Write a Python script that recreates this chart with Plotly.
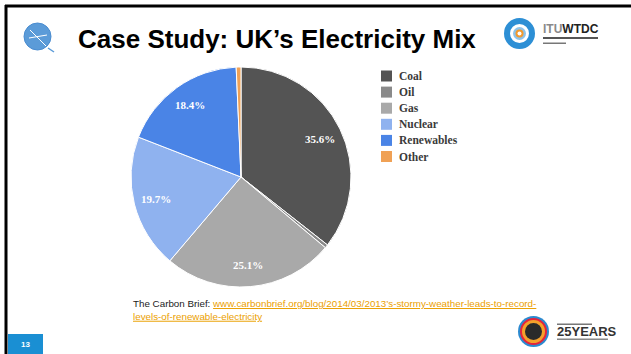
import math
import plotly.graph_objects as go

W, H = 631, 354

# ---- data ----
categories = ["Coal", "Oil", "Gas", "Nuclear", "Renewables", "Other"]
shares = [35.6, 0.5, 25.1, 19.7, 18.4, 0.7]
slice_labels = ["35.6%", "", "25.1%", "19.7%", "18.4%", ""]
colors = ["#545454", "#8a8a8a", "#a9a9a9", "#8fb2ef", "#4a84e6", "#f0a155"]

title_text = "Case Study: UK\u2019s Electricity Mix"
source_prefix = "The Carbon Brief: "
source_link_1 = "www.carbonbrief.org/blog/2014/03/2013\u2019s-stormy-weather-leads-to-record-"
source_link_2 = "levels-of-renewable-electricity"
page_number = "13"


def px(x):
    return x / W


def py(y):
    return 1 - y / H


fig = go.Figure()

# pie
cx, cy, r = 241, 177, 110
fig.add_trace(go.Pie(
    labels=categories,
    values=shares,
    textinfo="none",
    sort=False,
    direction="clockwise",
    rotation=0,
    marker=dict(colors=colors, line=dict(color="white", width=1)),
    showlegend=False,
    hoverinfo="label+percent",
    domain=dict(x=[px(cx - r), px(cx + r)], y=[py(cy + r), py(cy - r)]),
))

shapes = []
annotations = []

# slice labels, placed along each slice's mid-angle (derived from the data)
total = sum(shares)
cum = 0.0
for v, lab in zip(shares, slice_labels):
    mid = (cum + v / 2) / total * 2 * math.pi
    cum += v
    if not lab:
        continue
    lx = cx + 0.8 * r * math.sin(mid)
    ly = cy - 0.8 * r * math.cos(mid)
    annotations.append(dict(text="<b>" + lab + "</b>", xref="paper", yref="paper",
                            x=px(lx), y=py(ly), xanchor="center", yanchor="middle",
                            showarrow=False,
                            font=dict(family="Liberation Serif", size=11, color="white")))

# slide frame lines
shapes.append(dict(type="line", xref="paper", yref="paper",
                   x0=px(5), x1=px(631), y0=py(6), y1=py(6),
                   line=dict(color="black", width=3)))
shapes.append(dict(type="line", xref="paper", yref="paper",
                   x0=px(6), x1=px(6), y0=py(5), y1=py(354),
                   line=dict(color="black", width=3)))

# title
annotations.append(dict(text="<b>" + title_text + "</b>", xref="paper", yref="paper",
                        x=px(76), y=py(39), xanchor="left", yanchor="middle",
                        showarrow=False,
                        font=dict(family="Liberation Sans", size=26, color="black")))

# left globe icon
shapes.append(dict(type="circle", xref="paper", yref="paper",
                   x0=px(24), x1=px(51), y0=py(50), y1=py(23),
                   fillcolor="#5b9bd8", line=dict(color="#4a8cd0", width=1)))
shapes.append(dict(type="line", xref="paper", yref="paper",
                   x0=px(30), x1=px(46), y0=py(30), y1=py(46),
                   line=dict(color="white", width=1)))
shapes.append(dict(type="line", xref="paper", yref="paper",
                   x0=px(29), x1=px(47), y0=py(38), y1=py(35),
                   line=dict(color="white", width=1)))
shapes.append(dict(type="line", xref="paper", yref="paper",
                   x0=px(48), x1=px(54), y0=py(48), y1=py(52),
                   line=dict(color="#5b9bd8", width=1.5)))

# ITU logo (top right)
shapes.append(dict(type="circle", xref="paper", yref="paper",
                   x0=px(504), x1=px(535), y0=py(49), y1=py(18),
                   fillcolor="#2d8fd5", line=dict(width=0)))
shapes.append(dict(type="circle", xref="paper", yref="paper",
                   x0=px(510), x1=px(529), y0=py(43), y1=py(24),
                   fillcolor="white", line=dict(width=0)))
shapes.append(dict(type="circle", xref="paper", yref="paper",
                   x0=px(513), x1=px(526), y0=py(40), y1=py(27),
                   fillcolor="#8ec3ea", line=dict(width=0)))
shapes.append(dict(type="circle", xref="paper", yref="paper",
                   x0=px(515.5), x1=px(523.5), y0=py(37.5), y1=py(29.5),
                   fillcolor="#f29a2e", line=dict(width=0)))
shapes.append(dict(type="circle", xref="paper", yref="paper",
                   x0=px(517.5), x1=px(521.5), y0=py(35.5), y1=py(31.5),
                   fillcolor="white", line=dict(width=0)))
annotations.append(dict(text="<span style='color:#8a8a8a'><b>ITU</b></span><b>WTDC</b>",
                        xref="paper", yref="paper",
                        x=px(541), y=py(29), xanchor="left", yanchor="middle",
                        showarrow=False,
                        font=dict(family="Liberation Sans Narrow, Liberation Sans", size=12, color="#222222")))
shapes.append(dict(type="rect", xref="paper", yref="paper",
                   x0=px(543), x1=px(598), y0=py(39), y1=py(37),
                   fillcolor="#555555", line=dict(width=0)))
shapes.append(dict(type="rect", xref="paper", yref="paper",
                   x0=px(543), x1=px(566), y0=py(44), y1=py(42.5),
                   fillcolor="#777777", line=dict(width=0)))

# legend (drawn manually for exact spacing)
for i, (name, col) in enumerate(zip(categories, colors)):
    yc = 76 + i * 16.1
    shapes.append(dict(type="rect", xref="paper", yref="paper",
                       x0=px(381), x1=px(392), y0=py(yc + 5.5), y1=py(yc - 5.5),
                       fillcolor=col, line=dict(width=0)))
    annotations.append(dict(text="<b>" + name + "</b>", xref="paper", yref="paper",
                            x=px(397), y=py(yc), xanchor="left", yanchor="middle",
                            showarrow=False,
                            font=dict(family="Liberation Serif", size=11.5, color="#3a3a3a")))

# source text
annotations.append(dict(
    text=(source_prefix
          + "<span style='color:#eba000;text-decoration:underline'>" + source_link_1 + "</span><br>"
          + "<span style='color:#eba000;text-decoration:underline'>" + source_link_2 + "</span>"),
    xref="paper", yref="paper", x=px(131), y=py(296), xanchor="left", yanchor="top",
    align="left", showarrow=False,
    font=dict(family="Liberation Sans", size=9.8, color="#222222")))

# page number box
shapes.append(dict(type="rect", xref="paper", yref="paper",
                   x0=px(8), x1=px(43), y0=py(354), y1=py(334),
                   fillcolor="#1a8fd3", line=dict(width=0)))
annotations.append(dict(text="<b>" + page_number + "</b>", xref="paper", yref="paper",
                        x=px(25), y=py(344), xanchor="center", yanchor="middle",
                        showarrow=False,
                        font=dict(family="Liberation Sans", size=8, color="white")))

# 25 years logo (bottom right)
shapes.append(dict(type="circle", xref="paper", yref="paper",
                   x0=px(518), x1=px(549), y0=py(347), y1=py(316),
                   fillcolor="#2b8ad0", line=dict(width=0)))
shapes.append(dict(type="circle", xref="paper", yref="paper",
                   x0=px(521), x1=px(546), y0=py(344), y1=py(319),
                   fillcolor="#f4a12b", line=dict(color="#e5243b", width=2)))
shapes.append(dict(type="circle", xref="paper", yref="paper",
                   x0=px(525), x1=px(542), y0=py(340), y1=py(323),
                   fillcolor="#2a2a2a", line=dict(width=0)))
annotations.append(dict(text="<b>25YEARS</b>", xref="paper", yref="paper",
                        x=px(555), y=py(331), xanchor="left", yanchor="middle",
                        showarrow=False,
                        font=dict(family="Liberation Sans Narrow, Liberation Sans", size=13, color="#333333")))
shapes.append(dict(type="rect", xref="paper", yref="paper",
                   x0=px(557), x1=px(592), y0=py(325), y1=py(323.5),
                   fillcolor="#777777", line=dict(width=0)))
shapes.append(dict(type="rect", xref="paper", yref="paper",
                   x0=px(557), x1=px(608), y0=py(340), y1=py(338.5),
                   fillcolor="#888888", line=dict(width=0)))

fig.update_layout(
    width=W, height=H,
    margin=dict(l=0, r=0, t=0, b=0),
    paper_bgcolor="white", plot_bgcolor="white",
    shapes=shapes, annotations=annotations,
    showlegend=False,
)

fig.write_html("out.html")
